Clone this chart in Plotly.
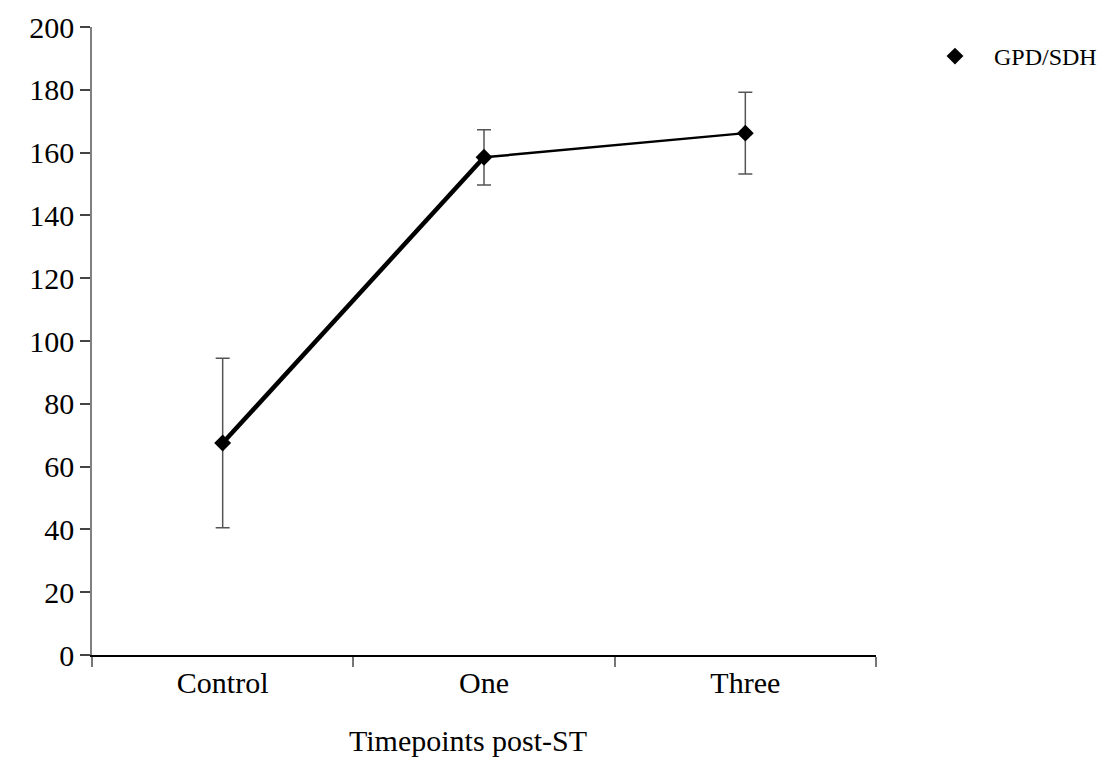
import plotly.graph_objects as go

categories = ["Control", "One", "Three"]
means = [67.5, 158.5, 166.2]
errors = [27.0, 8.8, 13.0]
series_name = "GPD/SDH"
x_title = "Timepoints post-ST"

FONT = "Liberation Serif, Times New Roman, serif"

fig = go.Figure()
# line segments (Excel-style drawing: first segment heavier)
fig.add_trace(go.Scatter(x=categories[0:2], y=means[0:2], mode="lines",
                         line=dict(color="black", width=4.5), showlegend=False, hoverinfo="skip"))
fig.add_trace(go.Scatter(x=categories[1:3], y=means[1:3], mode="lines",
                         line=dict(color="black", width=2.5), showlegend=False, hoverinfo="skip"))
fig.add_trace(go.Scatter(
    x=categories, y=means, mode="markers", name=series_name,
    marker=dict(symbol="diamond", size=13, color="black"),
    error_y=dict(type="data", array=errors, visible=True, color="#555555", thickness=1.5, width=7),
))

fig.update_layout(
    width=1110, height=784,
    paper_bgcolor="white", plot_bgcolor="white",
    margin=dict(l=84, r=242, t=19, b=137, autoexpand=False),
    font=dict(family=FONT, color="black", size=30),
    showlegend=True,
    legend=dict(xref="container", yref="container", x=0.818, y=1 - 26 / 784,
                xanchor="left", yanchor="top",
                font=dict(family=FONT, size=24, color="black"),
                bgcolor="rgba(0,0,0,0)", itemwidth=68),
    annotations=[dict(text=x_title, xref="paper", yref="paper", x=0.48, y=-0.106,
                      xanchor="center", yanchor="top", showarrow=False,
                      font=dict(family=FONT, size=30, color="black"))],
)
fig.update_xaxes(
    type="category", range=[-0.5, 2.5],
    showline=True, linecolor="black", linewidth=1.5,
    ticks="outside", tickson="boundaries", ticklen=10, tickcolor="#777777", tickwidth=1.5,
    showgrid=False, zeroline=False,
    tickfont=dict(family=FONT, size=30),
)
fig.update_yaxes(
    range=[0, 200], dtick=20, tick0=0,
    showline=True, linecolor="#808080", linewidth=1.5,
    ticks="outside", ticklen=10, tickcolor="#444444", tickwidth=1.5,
    showgrid=False, zeroline=False,
    tickfont=dict(family=FONT, size=30),
)

fig.write_html("out.html")
